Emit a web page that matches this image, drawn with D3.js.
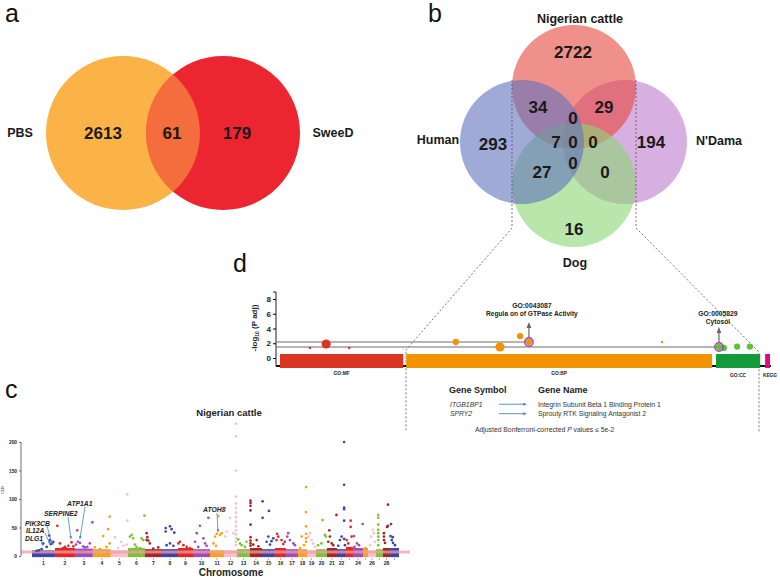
<!DOCTYPE html>
<html><head><meta charset="utf-8">
<script src="https://cdn.jsdelivr.net/npm/d3@7"></script>
<style>
body{margin:0;background:#fff}
svg{display:block}
text{font-family:"Liberation Sans",Arial,Helvetica,sans-serif}
</style>
</head><body>
<svg id="fig" width="780" height="577"></svg>
<script>
// ================= DATA =================
// Panel a : two-set Venn
const vennASets = ["PBS", "SweeD"];
const vennACounts = [2613, 61, 179];           // PBS only, both, SweeD only

// Panel b : four-set Venn
const vennBSets = ["Nigerian cattle", "Human", "N'Dama", "Dog"];
const vennBRegions = ["N", "H", "D", "G", "NH", "ND", "NHD", "NHG", "NHDG", "NDG", "HDG", "HG", "DG"];
const vennBCounts  = [2722, 293, 194, 16, 34, 29, 0, 7, 0, 0, 0, 27, 0];

// Panel c : Manhattan plot (CLR), Nigerian cattle
const chromosomes   = [1,2,3,4,5,6,7,8,9,10,11,12,13,14,15,16,17,18,19,20,21,22,23,24,25,26,27,28,29];
const chromLength   = [156,136,122,122,116,116,116,109,102,116,95,88,88,82,88,75,82,61,61,75,68,61,48,68,34,54,48,48,61];
const chromBaseCLR  = [10,14,13,12,10,14,12,12,14,12,10,10,12,14,12,14,12,12,10,12,14,12,16,14,14,10,12,14,14];
const chromTickLabels = ["1","2","3","4","5","6","7","8","9","10","11","12","13","14","15","16","17","18","19","20","21","22","24","26","28"];
const clrTicks = [0, 50, 100, 150, 200];
const clrThreshold = 7;
// [chromosome, relative position in chromosome, CLR]
const clrPeaks = [
 [1,.2,9],[1,.3,10],[1,.42,12],[1,.49,22],[1,.64,16],[1,.75,36],[1,.78,28],[1,.81,21],[1,.88,22],[1,.93,25],
 [2,.12,53],[2,.25,22],[2,.4,14],[2,.5,16],[2,.58,13],[2,.67,18],[2,.83,24],[2,.92,17],
 [3,.06,20],[3,.13,45],[3,.16,25],[3,.28,23],[3,.46,17],[3,.55,15],[3,.69,16],[3,.83,22],[3,.97,59],
 [4,.11,15],[4,.39,12],[4,.57,35],[4,.76,16],[4,.85,47],[4,.94,69],[4,.94,22],
 [5,.24,33],[5,.43,14],[5,.6,25],[5,.73,18],[5,.92,20],[5,.97,108],[5,.97,62],
 [6,.12,34],[6,.22,37],[6,.31,31],[6,.41,20],[6,.51,16],[6,.71,14],[6,.8,31],[6,.9,28],[6,.97,71],
 [7,.1,40],[7,.1,28],[7,.14,33],[7,.2,27],[7,.29,22],[7,.49,13],[7,.78,15],
 [8,.23,49],[8,.23,43],[8,.29,19],[8,.5,52],[8,.5,22],[8,.6,47],[8,.71,18],[8,.77,41],
 [9,.02,22],[9,.13,25],[9,.36,19],[9,.58,16],[9,.8,14],
 [10,.12,25],[10,.22,40],[10,.31,16],[10,.41,53],[10,.61,31],[10,.71,22],[10,.8,18],[10,.9,67],
 [11,.24,22],[11,.36,34],[11,.43,18],[11,.48,39],[11,.6,70],[11,.71,37],[11,.83,40],
 [12,.08,34],[12,.2,43],[12,.46,67],[12,.72,40],[12,.92,232],[12,.92,210],[12,.92,150],[12,.92,104],[12,.92,92],[12,.92,84],[12,.92,76],[12,.92,68],[12,.92,60],[12,.92,52],[12,.92,45],[12,.92,38],[12,.92,31],[12,.92,25],[12,.92,19],
 [13,.1,29],[13,.23,22],[13,.36,19],[13,.62,16],[13,.74,25],
 [14,.05,97],[14,.05,93],[14,.05,88],[14,.05,80],[14,.05,55],[14,.05,33],[14,.05,27],[14,.05,22],[14,.05,18],[14,.28,20],[14,.56,28],[14,.7,17],
 [15,.05,96],[15,.05,67],[15,.54,79],[15,.36,25],[15,.49,34],[15,.62,20],[15,.74,26],[15,.87,31],
 [16,.15,28],[16,.2,39],[16,.3,34],[16,.6,28],[16,.76,21],[16,.9,25],
 [17,.11,34],[17,.19,40],[17,.33,28],[17,.61,22],[17,.75,19],
 [18,.22,14],[18,.41,34],[18,.67,19],[18,.9,121],[18,.9,77],[18,.9,52],[18,.9,39],[18,.9,31],[18,.9,25],
 [19,.15,34],[19,.33,40],[19,.52,28],[19,.7,22],[19,.89,16],
 [20,.2,19],[20,.5,22],[20,.6,63],[20,.82,37],[20,.9,34],
 [21,.13,25],[21,.23,45],[21,.3,34],[21,.47,22],[21,.63,19],[21,.95,72],
 [22,.15,18],[22,.33,28],[22,.52,34],[22,.8,200],[22,.8,125],[22,.8,85],[22,.8,82],[22,.8,62],[22,.8,30],[22,.89,19],
 [23,.1,28],[23,.33,22],[23,.67,62],[23,.67,51],[23,.81,34],
 [24,.1,35],[24,.15,16],[24,.4,22],[24,.6,19],[24,.97,56],
 [25,.5,14],
 [26,.25,19],[26,.4,34],[26,.6,46],[26,.75,40],[26,.88,25],
 [27,.33,72],[27,.33,67],[27,.33,55],[27,.33,46],[27,.33,40],[27,.33,34],[27,.33,28],[27,.33,19],
 [28,.14,40],[28,.14,34],[28,.14,28],[28,.29,23],[28,.57,51],[28,.71,53],[28,.71,90],
 [29,.05,35],[29,.11,56],[29,.19,28],[29,.3,33],[29,.33,23],[29,.55,19]
];
const geneNames = ["PIK3CB", "IL12A", "DLG1", "SERPINE2", "ATP1A1", "ATOH8"];
const geneChrom = [1, 1, 1, 2, 3, 11];
const geneFrac  = [.87, .78, .48, .8, .28, .57];
const geneCLR   = [19, 19, 16, 28, 28, 40];

// Panel d : g:Profiler style enrichment
const goSources   = ["GO:MF", "GO:BP", "GO:CC", "KEGG"];
const sourceStart = [0, 25.7, 88.8, 98.8];
const sourceEnd   = [25.1, 88.0, 97.8, 99.8];
const termIds     = ["MF1","MF2","MF3","BP1","BP2","BP3","GO:0043087","BP5","GO:0005829","CC2","CC3","CC4"];
const termSource  = ["GO:MF","GO:MF","GO:MF","GO:BP","GO:BP","GO:BP","GO:BP","GO:BP","GO:CC","GO:CC","GO:CC","GO:CC"];
const termPos     = [6.1, 9.4, 14.1, 35.8, 44.8, 48.9, 50.7, 77.8, 89.4, 90.4, 93.1, 95.7];
const termLogP    = [1.36, 1.9, 1.36, 2.17, 1.49, 2.98, 2.17, 2.17, 1.49, 1.36, 1.55, 1.55];
const termGenes   = [20, 300, 20, 140, 300, 140, 140, 20, 140, 140, 140, 140];
const logPTicks   = [0, 2, 4, 6, 8];
const highlightIds   = ["GO:0043087", "GO:0005829"];
const highlightNames = ["Regula on of GTPase Activity", "Cytosol"];
const geneSymbols = ["ITGB1BP1", "SPRY2"];
const geneFull    = ["Integrin Subunit Beta 1 Binding Protein 1", "Sprouty RTK Signaling Antagonist 2"];

// ================= DRAW =================
const svg = d3.select("#fig");
const txt = (g, x, y, s, size, opts = {}) => {
  const t = g.append("text").attr("x", x).attr("y", y).text(s)
    .attr("font-size", size).attr("fill", opts.fill || "#1a1a1a")
    .attr("font-weight", opts.weight || "bold")
    .attr("text-anchor", opts.anchor || "middle");
  if (opts.style) t.attr("font-style", opts.style);
  if (opts.db) t.attr("dominant-baseline", opts.db);
  return t;
};

// panel letters
[["a",5,22],["b",428,22],["c",5,398],["d",233,272]].forEach(([l,x,y]) =>
  txt(svg, x, y, l, 25, {weight:"normal", anchor:"start", fill:"#111"}));

// ---------- Panel a ----------
{
  const g = svg.append("g");
  const cA = [{x:123,y:133},{x:223,y:133}], r = 77;
  const colA = ["#FBB347", "#EC2630"];
  const defs = svg.append("defs");
  defs.append("clipPath").attr("id","clipRed").append("circle")
    .attr("cx", cA[1].x).attr("cy", cA[1].y).attr("r", r);
  g.selectAll("circle.v").data(cA).join("circle").attr("class","v")
    .attr("cx", d=>d.x).attr("cy", d=>d.y).attr("r", r).attr("fill", (d,i)=>colA[i]);
  g.append("circle").attr("cx", cA[0].x).attr("cy", cA[0].y).attr("r", r)
    .attr("fill", colA[0]).attr("opacity", 0.5).attr("clip-path","url(#clipRed)");
  const lblPos = [103, 172, 237];
  vennACounts.forEach((n,i)=> txt(g, lblPos[i], 133, n, 17, {db:"central"}));
  txt(g, 20, 133, vennASets[0], 12.5, {db:"central"});
  txt(g, 333, 133, vennASets[1], 12.5, {db:"central"});
}

// ---------- Panel b ----------
{
  const g = svg.append("g");
  const r = 62;
  const circ = {"Nigerian cattle":{x:574,y:87,c:"#E6463C"}, "Human":{x:522,y:142,c:"#6171BC"},
                "N'Dama":{x:625,y:142,c:"#BC7ACD"}, "Dog":{x:574,y:185,c:"#8AD571"}};
  const order = ["N'Dama","Nigerian cattle","Dog","Human"];
  g.selectAll("circle").data(order).join("circle")
    .attr("cx", d=>circ[d].x).attr("cy", d=>circ[d].y).attr("r", r)
    .attr("fill", d=>circ[d].c).attr("fill-opacity", 0.6);
  const regionPos = {N:[573,52],H:[493,144],D:[651,142],G:[574,229],NH:[538,107],ND:[604,107],
    NHD:[573,118],NHG:[556,142],NHDG:[573,142],NDG:[593,142],HDG:[573,163],HG:[542,172],DG:[605,172]};
  vennBRegions.forEach((k,i)=> txt(g, regionPos[k][0], regionPos[k][1], vennBCounts[i], 17, {db:"central"}));
  const setLbl = {"Nigerian cattle":[580,19],"Human":[438,140],"N'Dama":[719,141],"Dog":[575,263]};
  vennBSets.forEach(s => txt(g, setLbl[s][0], setLbl[s][1], s, 12.5, {db:"central"}));
}

// ---------- zoom dashed connectors ----------
{
  const line = d3.line();
  [[[512,80],[512,228],[406,350],[406,432]], [[636,80],[636,228],[759,352],[759,432]]].forEach(p =>
    svg.append("path").attr("d", line(p)).attr("fill","none").attr("stroke","#555")
      .attr("stroke-width",0.8).attr("stroke-dasharray","2,2"));
}

// ---------- Panel d ----------
{
  const g = svg.append("g");
  const x = d3.scaleLinear().domain([0,100]).range([280,771]);
  const y = d3.scaleLinear().domain([0,8]).range([358,299]);
  const rS = d3.scaleSqrt().domain([0,300]).range([0,4.6]);
  const srcCol = {"GO:MF":"#DC3522","GO:BP":"#F39200","GO:CC":"#139A3A","KEGG":"#DD0A84"};
  // axis
  const ax = d3.axisLeft(y).tickValues(logPTicks).tickSize(3).tickPadding(2);
  const axg = g.append("g").attr("transform","translate(276,0)").call(ax);
  axg.select(".domain").attr("stroke","#222").attr("d","M-3,292H0V366");
  axg.selectAll("text").attr("font-size",8).attr("font-weight","bold").attr("fill","#222")
     .attr("font-family",'"Liberation Sans",Arial,sans-serif');
  const yl = g.append("text").attr("transform","translate(257,328) rotate(-90)")
     .attr("text-anchor","middle").attr("font-size",8).attr("font-weight","bold").attr("fill","#222");
  yl.append("tspan").text("-log");
  yl.append("tspan").text("10").attr("font-size",5).attr("dy",2);
  yl.append("tspan").text(" (P adj)").attr("dy",-2);
  // baseline
  g.append("line").attr("x1",276).attr("x2",771).attr("y1",366).attr("y2",366).attr("stroke","#111").attr("stroke-width",2);
  // bars
  g.selectAll("rect.src").data(goSources).join("rect").attr("class","src")
    .attr("x",(d,i)=>x(sourceStart[i])).attr("width",(d,i)=>x(sourceEnd[i])-x(sourceStart[i]))
    .attr("y",354).attr("height",14).attr("fill",d=>srcCol[d]);
  const srcLblY = {"GO:MF":375,"GO:BP":375,"GO:CC":377,"KEGG":377};
  goSources.forEach((s,i)=>{
    const cx = s==="KEGG" ? 770 : (x(sourceStart[i])+x(sourceEnd[i]))/2;
    txt(g, cx, srcLblY[s], s, 4.8, {fill:"#222"});
  });
  // threshold lines to highlighted terms
  highlightIds.forEach(id=>{
    const i = termIds.indexOf(id);
    g.append("line").attr("x1",276).attr("x2",x(termPos[i])).attr("y1",y(termLogP[i])).attr("y2",y(termLogP[i]))
      .attr("stroke","#6d6d6d").attr("stroke-width",1.1);
  });
  // points
  g.selectAll("circle.term").data(termIds).join("circle").attr("class","term")
    .attr("cx",(d,i)=>x(termPos[i])).attr("cy",(d,i)=>y(termLogP[i])).attr("r",(d,i)=>rS(termGenes[i]))
    .attr("fill",(d,i)=> termSource[i]==="GO:CC" ? "#5CC13A" : srcCol[termSource[i]]);
  // highlights
  const defs = svg.append("defs");
  defs.append("marker").attr("id","ah").attr("viewBox","0 0 10 10").attr("refX",5).attr("refY",5)
    .attr("markerWidth",5).attr("markerHeight",5).attr("orient","auto")
    .append("path").attr("d","M0,1L10,5L0,9Z").attr("fill","#666");
  highlightIds.forEach((id,k)=>{
    const i = termIds.indexOf(id);
    const px = x(termPos[i]), py = y(termLogP[i]);
    g.append("circle").attr("cx",px).attr("cy",py).attr("r",4.2).attr("fill","none")
      .attr("stroke","#A23CB8").attr("stroke-width",1.4);
    g.append("line").attr("x1",px).attr("x2",px).attr("y1",py-4.5).attr("y2",py-17)
      .attr("stroke","#666").attr("stroke-width",1.2).attr("marker-end","url(#ah)");
    const tx = k===0 ? px+3 : px-1;
    const ty = k===0 ? 308 : 316;
    txt(g, tx, ty, id, 6.8, {fill:"#222"});
    txt(g, tx, ty+7.5, highlightNames[k], 6.6, {fill:"#222"});
  });
  // gene table
  txt(g, 449, 393, "Gene Symbol", 9, {anchor:"start", fill:"#222"});
  txt(g, 538, 393, "Gene Name", 9, {anchor:"start", fill:"#222"});
  defs.append("marker").attr("id","bh").attr("viewBox","0 0 10 10").attr("refX",8).attr("refY",5)
    .attr("markerWidth",4).attr("markerHeight",4).attr("orient","auto")
    .append("path").attr("d","M0,1L10,5L0,9Z").attr("fill","#4A86C5");
  geneSymbols.forEach((s,i)=>{
    const by = 406.5 + i*9.5;
    txt(g, 450, by, s, 6.8, {anchor:"start", weight:"normal", style:"italic", fill:"#333"});
    g.append("line").attr("x1",499).attr("x2",526).attr("y1",by-2.3).attr("y2",by-2.3)
      .attr("stroke","#4A86C5").attr("stroke-width",0.9).attr("marker-end","url(#bh)");
    txt(g, 538, by, geneFull[i], 6.8, {anchor:"start", weight:"normal", fill:"#333"});
  });
  const adj = g.append("text").attr("x",475).attr("y",432).attr("font-size",6.8).attr("fill","#333");
  adj.append("tspan").text("Adjusted Bonferroni-corrected ");
  adj.append("tspan").text("P").attr("font-style","italic");
  adj.append("tspan").text(" values \u2264 5e-2");
}

// ---------- Panel c ----------
{
  const g = svg.append("g");
  const palette = ["#3C46AA","#E3262A","#9A4EC0","#F7A21B","#F8C0CC","#7DC23A","#A3262A"];
  const cum = []; let acc = 0;
  chromLength.forEach(l => { cum.push(acc); acc += l; });
  const x = d3.scaleLinear().domain([0, acc]).range([32, 399]);
  const y = d3.scaleLinear().domain([0, 200]).range([556, 442]);
  const col = c => palette[(c-1) % 7];
  const pos = (c, f) => x(cum[c-1] + f * chromLength[c-1]);
  // bands (dense low-CLR points)
  g.selectAll("rect.band").data(chromosomes).join("rect").attr("class","band")
    .attr("x",(c,i)=>x(cum[i])).attr("width",(c,i)=>x(cum[i]+chromLength[i])-x(cum[i]))
    .attr("y",(c,i)=>y(chromBaseCLR[i])).attr("height",(c,i)=>y(-2)-y(chromBaseCLR[i]))
    .attr("fill",c=>col(c));
  // threshold line
  g.append("line").attr("x1",21).attr("x2",410).attr("y1",y(clrThreshold)).attr("y2",y(clrThreshold))
    .attr("stroke","#F0A0A0").attr("stroke-opacity",0.75).attr("stroke-width",3);
  // points
  g.selectAll("circle.pk").data(clrPeaks).join("circle").attr("class","pk")
    .attr("cx",d=>pos(d[0],d[1])).attr("cy",d=>y(d[2])).attr("r",1.35)
    .attr("fill",d=>col(d[0]));
  // y axis
  const ax = d3.axisLeft(y).tickValues(clrTicks).tickSize(2).tickPadding(2);
  const axg = g.append("g").attr("transform","translate(21,0)").call(ax);
  axg.select(".domain").attr("stroke","#333").attr("stroke-width",0.7).attr("d","M0,442V556");
  axg.selectAll(".tick line").attr("stroke","#333").attr("stroke-width",0.7);
  axg.selectAll("text").attr("font-size",4.8).attr("font-weight","bold").attr("fill","#222")
     .attr("font-family",'"Liberation Sans",Arial,sans-serif');
  g.append("text").attr("transform","translate(4,490) rotate(-90)").attr("text-anchor","middle")
    .attr("font-size",4).attr("fill","#333").text("CLR");
  // x ticks / labels
  chromosomes.forEach((c,i)=>{
    const cx = x(cum[i] + chromLength[i]/2);
    g.append("line").attr("x1",cx).attr("x2",cx).attr("y1",558.3).attr("y2",559.8).attr("stroke","#444").attr("stroke-width",0.6);
    if (chromTickLabels.includes(String(c))) txt(g, cx, 564.8, String(c), 5, {fill:"#222"});
  });
  txt(g, 231, 576, "Chromosome", 10, {fill:"#222"});
  txt(g, 229, 416, "Nigerian cattle", 9.5, {fill:"#222"});
  // gene annotations
  const lblPos = {PIK3CB:[25,525.5,47,526], IL12A:[26,533,45,533], DLG1:[25,540.5,41,541],
                  SERPINE2:[44,516,68,517], ATP1A1:[67,506,85,507], ATOH8:[203,512,217,513]};
  const defs = svg.append("defs");
  defs.append("marker").attr("id","ch").attr("viewBox","0 0 10 10").attr("refX",8).attr("refY",5)
    .attr("markerWidth",4).attr("markerHeight",4).attr("orient","auto")
    .append("path").attr("d","M0,1L10,5L0,9Z").attr("fill","#3F86C2");
  geneNames.forEach((n,i)=>{
    const p = lblPos[n];
    txt(g, p[0], p[1], n, 6.8, {anchor:"start", style:"italic", fill:"#222"});
    g.append("line").attr("x1",p[2]).attr("y1",p[3])
      .attr("x2",pos(geneChrom[i],geneFrac[i])).attr("y2",y(geneCLR[i])-1.5)
      .attr("stroke","#3F86C2").attr("stroke-width",0.8).attr("marker-end","url(#ch)");
  });
}
</script>
</body></html>
